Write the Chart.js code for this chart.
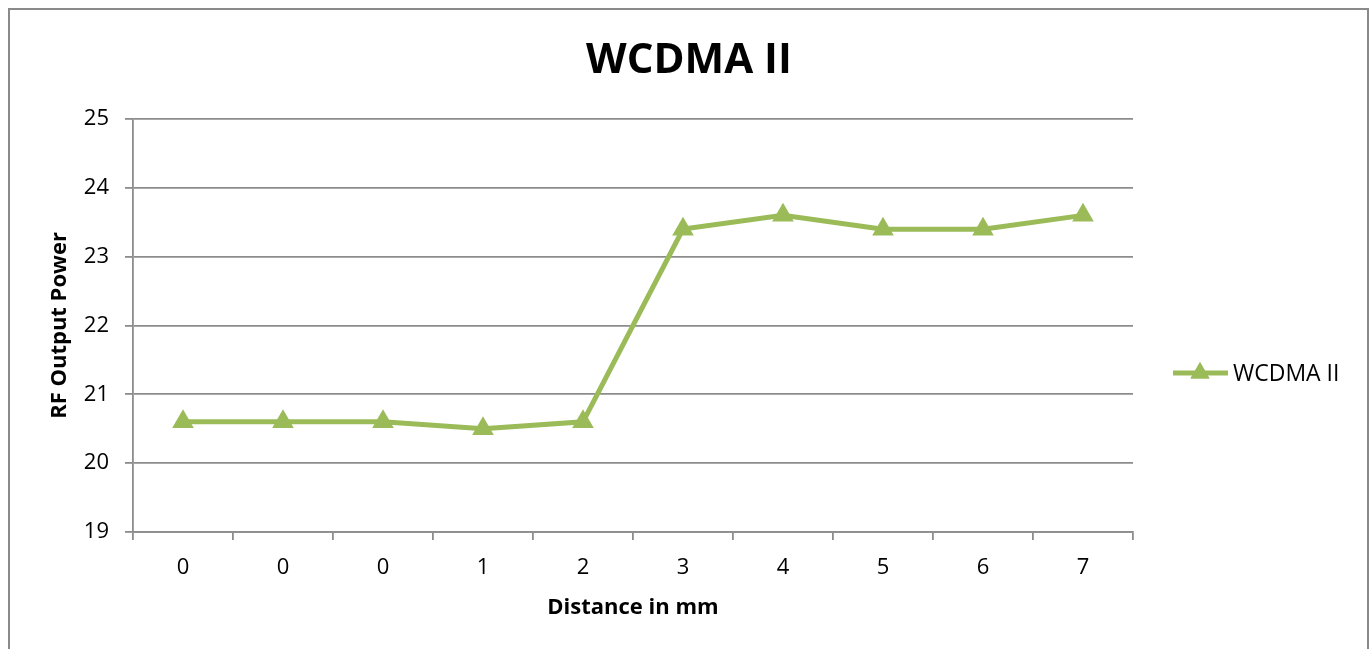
<!DOCTYPE html>
<html>
<head>
<meta charset="utf-8">
<title>WCDMA II</title>
<script src="https://cdn.jsdelivr.net/npm/chart.js@4/dist/chart.umd.min.js"></script>
<style>
  html, body { margin: 0; padding: 0; background: #fff; overflow: hidden; }
  #wrap { position: relative; width: 1372px; height: 649px; }
</style>
</head>
<body>
<div id="wrap"><canvas id="myChart" width="1372" height="649"></canvas></div>
<script>
// data
const categories = ["0", "0", "0", "1", "2", "3", "4", "5", "6", "7"];
const wcdmaValues = [20.6, 20.6, 20.6, 20.5, 20.6, 23.4, 23.6, 23.4, 23.4, 23.6];
const seriesName = "WCDMA II";
const chartTitle = "WCDMA II";
const yMin = 19;
const yMax = 25;
const yStep = 1;

const green = "#9bbb59";
const gridGray = "#8c8c8c";
const fontFamily = "'Open Sans', 'DejaVu Sans', sans-serif";

// outer frame + title centred on the whole chart object (not just the plot)
const framePlugin = {
  id: "frame",
  beforeDraw: function (chart) {
    const ctx = chart.ctx;
    ctx.save();
    ctx.fillStyle = "#fff";
    ctx.fillRect(0, 0, chart.width, chart.height);
    ctx.strokeStyle = "#8a8a8a";
    ctx.lineWidth = 2;
    ctx.strokeRect(9, 9, 1359, 700);
    ctx.fillStyle = "#000";
    ctx.font = "bold 42px " + fontFamily;
    ctx.textAlign = "center";
    ctx.textBaseline = "middle";
    ctx.fillText(chartTitle, 689, 61);
    ctx.restore();
  }
};

// legend like the one in the sheet: line + marker + name, right of the plot
const sideLegend = {
  id: "sideLegend",
  afterDraw: function (chart) {
    const ctx = chart.ctx;
    const ds = chart.data.datasets[0];
    const x0 = chart.chartArea.right + 40;
    const y = 373;
    ctx.save();
    ctx.strokeStyle = ds.borderColor;
    ctx.lineWidth = ds.borderWidth;
    ctx.beginPath();
    ctx.moveTo(x0, y);
    ctx.lineTo(x0 + 55, y);
    ctx.stroke();
    ctx.fillStyle = ds.backgroundColor;
    Chart.helpers.drawPoint(ctx, {pointStyle: "triangle", radius: 11, borderWidth: 0}, x0 + 27, y);
    ctx.fill();
    ctx.fillStyle = "#000";
    ctx.font = "23px " + fontFamily;
    ctx.textBaseline = "middle";
    ctx.textAlign = "left";
    ctx.fillText(ds.label, x0 + 60, y + 1);
    ctx.restore();
  }
};

const ctx = document.getElementById("myChart").getContext("2d");
const myChart = new Chart(ctx, {
  type: "line",
  data: {
    labels: categories,
    datasets: [{
      label: seriesName,
      data: wcdmaValues,
      borderColor: green,
      backgroundColor: green,
      borderWidth: 5,
      tension: 0,
      pointStyle: "triangle",
      pointRadius: 12.5,
      pointHoverRadius: 12.5,
      pointBorderWidth: 0,
      pointBackgroundColor: green
    }]
  },
  options: {
    responsive: false,
    animation: false,
    devicePixelRatio: 1,
    layout: { padding: { left: 0, right: 239, top: 119, bottom: 0 } },
    plugins: {
      legend: { display: false },
      tooltip: { enabled: false },
      title: { display: false }
    },
    scales: {
      x: {
        offset: true,
        grid: {
          offset: true,
          drawOnChartArea: false,
          drawTicks: true,
          tickLength: 8,
          color: gridGray,
          lineWidth: 1.8
        },
        border: { display: true, color: gridGray, width: 1.8 },
        ticks: {
          color: "#000",
          padding: 15,
          maxRotation: 0,
          autoSkip: false,
          font: { family: fontFamily, size: 22 }
        },
        title: {
          display: true,
          text: "Distance in mm",
          color: "#000",
          font: { family: fontFamily, size: 22, weight: "bold", lineHeight: 1.2 },
          padding: { top: 13, bottom: 28 }
        },
        afterFit: function (scale) { scale.height = 117; }
      },
      y: {
        min: yMin,
        max: yMax,
        ticks: {
          stepSize: yStep,
          color: "#000",
          padding: 16,
          font: { family: fontFamily, size: 22 }
        },
        grid: {
          color: gridGray,
          lineWidth: 1.8,
          drawTicks: true,
          tickLength: 8
        },
        border: { display: true, color: gridGray, width: 1.8 },
        title: {
          display: true,
          text: "RF Output Power",
          color: "#000",
          font: { family: fontFamily, size: 22, weight: "bold", lineHeight: 1.2 },
          padding: { top: 47, bottom: 12 }
        },
        afterFit: function (scale) { scale.width = 133; }
      }
    }
  },
  plugins: [framePlugin, sideLegend]
});
</script>
</body>
</html>
